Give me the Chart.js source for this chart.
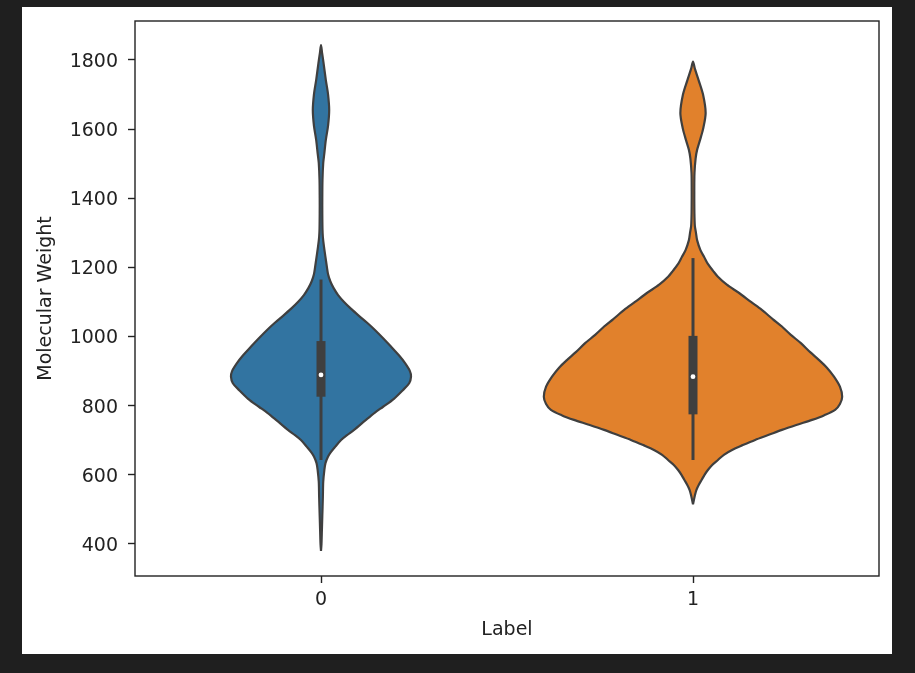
<!DOCTYPE html>
<html><head><meta charset="utf-8">
<script src="https://cdn.jsdelivr.net/npm/chart.js@4.4.1/dist/chart.umd.min.js"></script>
<style>
html,body{margin:0;padding:0;background:#1f1f1f;width:915px;height:673px;overflow:hidden}
#fig{position:absolute;left:22px;top:7px;width:870px;height:647px;background:#fff}
canvas{display:block}
</style></head><body>
<div id="fig"><canvas id="c" width="870" height="647"></canvas></div>
<script>
// ---- data ----
const categories = ['0', '1'];
const yTicks = [400, 600, 800, 1000, 1200, 1400, 1600, 1800];

// density outline of label 0 (molecular weight, half width in category units)
const weights0 = [1843,1820,1790,1742,1700,1655,1610,1569,1530,1502,1453,1400,1357,1310,1288,1260,1230,1200,1180,1160,1140,1120,1100,1080,1060,1040,1019,995,971,945,923,900,884,865,845,820,797,780,759,730,715,701,681,665,653,634,614,580,536,480,440,400,380];
const density0 = [0,0.003,0.007,0.013,0.019,0.022,0.019,0.013,0.009,0.006,0.004,0.0035,0.0035,0.004,0.005,0.008,0.012,0.016,0.019,0.025,0.034,0.046,0.062,0.081,0.102,0.124,0.145,0.167,0.188,0.210,0.226,0.239,0.242,0.237,0.220,0.196,0.167,0.145,0.121,0.089,0.070,0.054,0.038,0.026,0.019,0.012,0.009,0.006,0.005,0.0035,0.0024,0.0013,0];

// density outline of label 1
const weights1 = [1795,1775,1742,1700,1647,1600,1569,1540,1515,1473,1420,1357,1320,1300,1279,1250,1230,1210,1190,1173,1150,1126,1100,1077,1050,1029,1005,981,955,932,910,884,855,826,805,788,772,759,745,730,715,701,686,672,658,643,628,614,600,585,570,556,540,525,515];
const density1 = [0,0.005,0.015,0.027,0.034,0.027,0.019,0.011,0.007,0.004,0.0035,0.0038,0.005,0.008,0.011,0.020,0.030,0.040,0.054,0.067,0.091,0.124,0.156,0.185,0.215,0.239,0.263,0.290,0.315,0.339,0.360,0.379,0.395,0.401,0.395,0.382,0.352,0.320,0.280,0.239,0.202,0.167,0.134,0.105,0.083,0.067,0.051,0.040,0.031,0.023,0.015,0.009,0.005,0.002,0];

// inner box statistics per label
const whiskerLow  = [643, 643];
const whiskerHigh = [1165, 1227];
const q1 = [826, 775];
const q3 = [987, 1002];
const medians = [889, 884];

const fillColors = ['#3274a1', '#e1812c'];
const lineGray = '#3f3f3f';

function outline(center, vals, widths) {
  const pts = [];
  for (let i = vals.length - 1; i >= 0; i--) pts.push({x: center - widths[i], y: vals[i]});
  for (let i = 1; i < vals.length; i++) pts.push({x: center + widths[i], y: vals[i]});
  return pts;
}

const weightSets = [weights0, weights1];
const densitySets = [density0, density1];
const datasets = [];
categories.forEach((c, i) => {
  datasets.push({
    label: 'violin ' + c,
    data: outline(i, weightSets[i], densitySets[i]),
    showLine: true, fill: 'shape',
    backgroundColor: fillColors[i], borderColor: lineGray, borderWidth: 2.2,
    pointRadius: 0, tension: 0.3, order: 3
  });
  datasets.push({
    label: 'whisker ' + c,
    data: [{x: i, y: whiskerLow[i]}, {x: i, y: whiskerHigh[i]}],
    showLine: true, fill: false, borderColor: lineGray, borderWidth: 3,
    pointRadius: 0, order: 2
  });
  datasets.push({
    label: 'box ' + c,
    data: [{x: i, y: q1[i]}, {x: i, y: q3[i]}],
    showLine: true, fill: false, borderColor: lineGray, borderWidth: 9,
    borderCapStyle: 'butt', pointRadius: 0, order: 1
  });
  datasets.push({
    label: 'median ' + c,
    data: [{x: i, y: medians[i]}],
    showLine: false, pointRadius: 2.4, pointBackgroundColor: '#ffffff',
    pointBorderWidth: 0, order: 0
  });
});

const frame = {
  id: 'frame',
  afterDatasetsDraw(chart) {
    const {ctx, chartArea: a} = chart;
    ctx.save();
    ctx.strokeStyle = '#222';
    ctx.lineWidth = 1.4;
    ctx.strokeRect(a.left, a.top, a.right - a.left, a.bottom - a.top);
    ctx.restore();
  }
};

const font = {family: '"DejaVu Sans", sans-serif', size: 19};
new Chart(document.getElementById('c'), {
  type: 'scatter',
  data: {datasets},
  options: {
    responsive: false, animation: false, devicePixelRatio: 1,
    layout: {padding: {top: 14, right: 13, left: 0, bottom: 0}},
    plugins: {legend: {display: false}, tooltip: {enabled: false}},
    scales: {
      x: {
        type: 'linear', min: -0.5, max: 1.5,
        afterBuildTicks: s => { s.ticks = categories.map((c, i) => ({value: i})); },
        afterFit: s => { s.height = 78; s.paddingLeft = 0; s.paddingRight = 0; },
        ticks: {font, color: '#222', padding: 6, callback: v => categories[v]},
        grid: {display: true, drawOnChartArea: false, drawTicks: true, tickLength: 7, tickColor: '#222', tickWidth: 1.4},
        border: {display: false},
        title: {display: true, text: 'Label', font, color: '#222', padding: {top: 0, bottom: 12.6}}
      },
      y: {
        type: 'linear', min: 307.4, max: 1912.8,
        afterBuildTicks: s => { s.ticks = yTicks.map(v => ({value: v})); },
        afterFit: s => { s.width = 113; s.paddingTop = 0; s.paddingBottom = 0; },
        ticks: {font, color: '#222', padding: 10, labelOffset: 2, callback: v => String(v)},
        grid: {display: true, drawOnChartArea: false, drawTicks: true, tickLength: 7, tickColor: '#222', tickWidth: 1.4},
        border: {display: false},
        title: {display: true, text: 'Molecular Weight', font, color: '#222', padding: {top: 13, bottom: 0}}
      }
    }
  },
  plugins: [frame]
});
</script>
</body></html>
